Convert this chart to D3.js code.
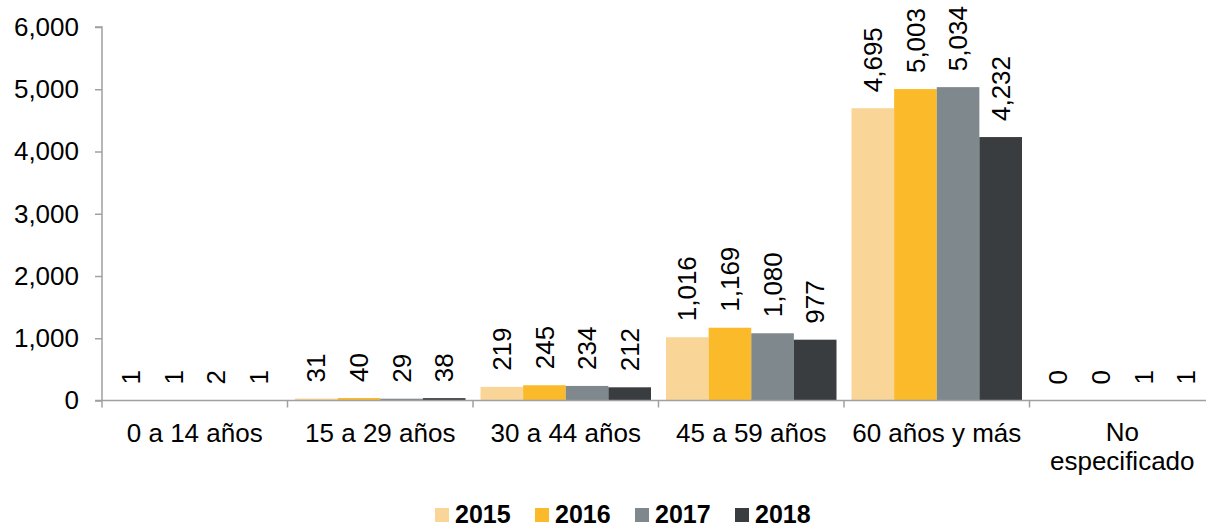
<!DOCTYPE html>
<html>
<head>
<meta charset="utf-8">
<script src="https://cdn.jsdelivr.net/npm/d3@7"></script>
<style>
  html, body { margin: 0; padding: 0; background: #fff; }
  svg { display: block; font-family: "Liberation Sans", Arial, sans-serif; }
</style>
</head>
<body>
<svg id="chart" width="1206" height="527"></svg>
<script>
const categories = ["0 a 14 años", "15 a 29 años", "30 a 44 años", "45 a 59 años", "60 años y más", "No especificado"];
const categoryLines = [["0 a 14 años"], ["15 a 29 años"], ["30 a 44 años"], ["45 a 59 años"], ["60 años y más"], ["No", "especificado"]];
const years = ["2015", "2016", "2017", "2018"];
const values2015 = [1, 31, 219, 1016, 4695, 0];
const values2016 = [1, 40, 245, 1169, 5003, 0];
const values2017 = [2, 29, 234, 1080, 5034, 1];
const values2018 = [1, 38, 212, 977, 4232, 1];
const yTicks = [0, 1000, 2000, 3000, 4000, 5000, 6000];
const colors = ["#F9D598", "#FBBA2A", "#7F888D", "#3A3D40"];

const series = [values2015, values2016, values2017, values2018];

const svg = d3.select("#chart");
const plotLeft = 102, plotRight = 1215, plotTop = 27, plotBottom = 400.5;

const x0 = d3.scaleBand().domain(categories).range([plotLeft, plotRight]).padding(0);
const x1 = d3.scaleBand().domain(years).range([7.5, x0.bandwidth() - 7.5]).padding(0);
const y = d3.scaleLinear().domain([0, 6000]).range([plotBottom, plotTop]);

const fmt = d3.format(",");
const axisColor = "#A0A0A0";

// bars
const groups = svg.append("g").selectAll("g")
  .data(categories)
  .join("g")
  .attr("transform", d => `translate(${x0(d)},0)`);

groups.selectAll("rect")
  .data((c, i) => years.map((yr, j) => ({ yr, j, v: series[j][i] })))
  .join("rect")
  .attr("x", d => x1(d.yr))
  .attr("width", x1.bandwidth())
  .attr("y", d => y(d.v))
  .attr("height", d => plotBottom - y(d.v))
  .attr("fill", d => colors[d.j]);

// value labels
groups.selectAll("text.val")
  .data((c, i) => years.map((yr, j) => ({ yr, j, v: series[j][i] })))
  .join("text")
  .attr("class", "val")
  .attr("transform", d => `translate(${x1(d.yr) + x1.bandwidth() / 2},${y(d.v) - 16}) rotate(-90)`)
  .attr("dy", "0.35em")
  .attr("text-anchor", "start")
  .attr("font-size", 26)
  .attr("fill", "#000")
  .text(d => fmt(d.v));

// y axis
const yAxis = d3.axisLeft(y).tickValues(yTicks).tickFormat(fmt).tickSize(7).tickPadding(16);
const gy = svg.append("g").attr("transform", `translate(${plotLeft},0)`).call(yAxis);
gy.select(".domain").attr("stroke", axisColor).attr("stroke-width", 1.5).attr("d", `M-7,${plotTop}H0V${plotBottom}`);
gy.selectAll(".tick line").attr("stroke", axisColor).attr("stroke-width", 1.5);
gy.selectAll(".tick text").attr("font-size", 26).attr("fill", "#000").attr("font-family", "Liberation Sans, Arial, sans-serif");

// x axis line
svg.append("line")
  .attr("x1", plotLeft - 7).attr("x2", plotRight)
  .attr("y1", plotBottom).attr("y2", plotBottom)
  .attr("stroke", axisColor).attr("stroke-width", 1.5);

// boundary ticks
const boundaries = categories.map(c => x0(c)).concat([plotRight]);
svg.append("g").selectAll("line")
  .data(boundaries)
  .join("line")
  .attr("x1", d => d).attr("x2", d => d)
  .attr("y1", plotBottom).attr("y2", plotBottom + 7)
  .attr("stroke", axisColor).attr("stroke-width", 1.5);

// category labels (each line as its own text)
const catData = [];
categories.forEach((c, i) => categoryLines[i].forEach((line, k) => catData.push({ c, line, k, n: categoryLines[i].length })));
svg.append("g").selectAll("text")
  .data(catData)
  .join("text")
  .attr("x", d => x0(d.c) + x0.bandwidth() / 2)
  .attr("y", d => (d.n > 1 ? 441 : 442) + d.k * 29)
  .attr("text-anchor", "middle")
  .attr("font-size", 26)
  .attr("fill", "#000")
  .text(d => d.line);

// legend
const legend = svg.append("g").selectAll("g")
  .data(years)
  .join("g")
  .attr("transform", (d, i) => `translate(${435 + i * 100},508)`);
legend.append("rect")
  .attr("width", 14).attr("height", 14)
  .attr("fill", (d, i) => colors[i]);
legend.append("text")
  .attr("x", 20).attr("y", 15)
  .attr("font-size", 25)
  .attr("font-weight", "bold")
  .attr("fill", "#000")
  .text(d => d);
</script>
</body>
</html>
